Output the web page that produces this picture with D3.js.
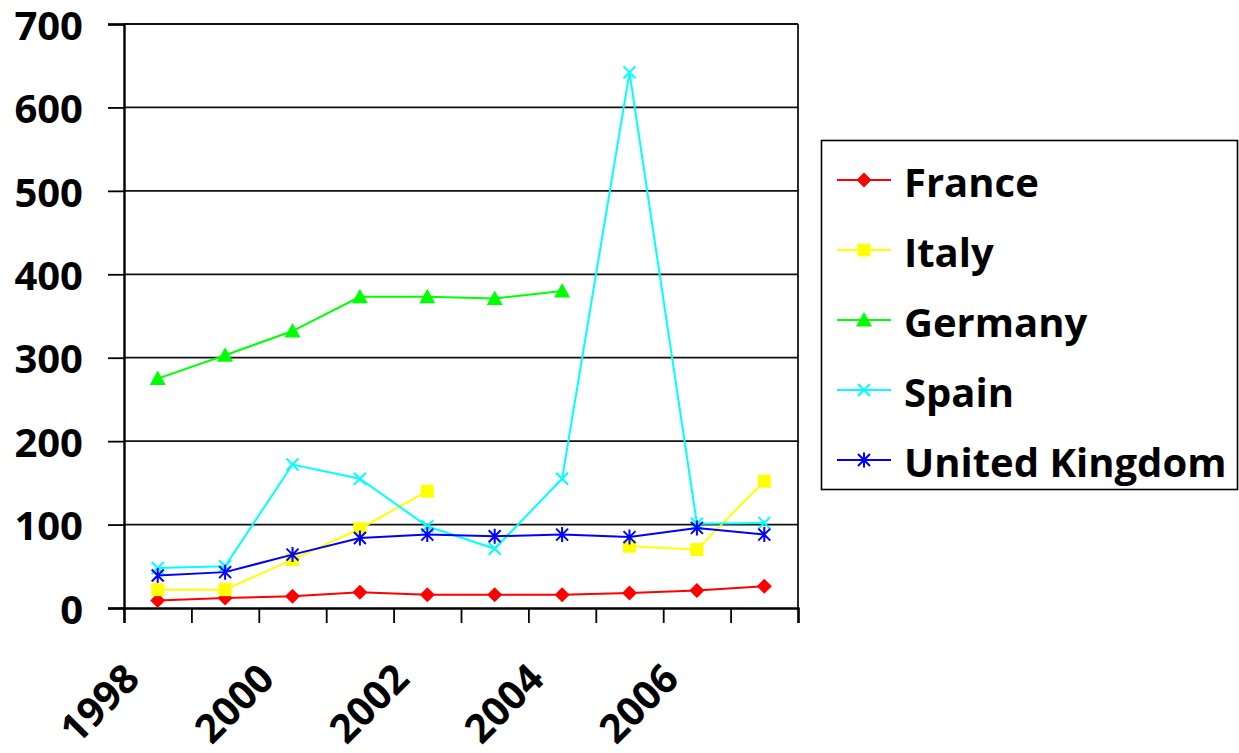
<!DOCTYPE html>
<html>
<head>
<meta charset="utf-8">
<script src="https://cdn.jsdelivr.net/npm/d3@7"></script>
<style>
  html, body { margin: 0; padding: 0; background: #fff; }
  svg { display: block; font-family: "Open Sans", sans-serif; font-weight: bold; }
</style>
</head>
<body>
<svg id="chart" width="1239" height="753"></svg>
<script>
// Yearly values per country (null = no data for that year)
const years = [1998, 1999, 2000, 2001, 2002, 2003, 2004, 2005, 2006, 2007];
const france  = [9, 12, 14, 19, 16, 16, 16, 18, 21, 26];
const italy   = [22, 22, 58, 95, 140, null, null, 74, 70, 152];
const germany = [275, 303, 332, 373, 373, 371, 380, null, null, null];
const spain   = [48, 50, 172, 155, 98, 71, 155, 642, 101, 102];
const uk      = [39, 43, 64, 84, 88, 86, 88, 85, 96, 88];
const yTicks  = [0, 100, 200, 300, 400, 500, 600, 700];
const xLabels = [1998, 2000, 2002, 2004, 2006];

const series = [
  { name: "France",         values: france,  color: "#ff0000", marker: "diamond" },
  { name: "Italy",          values: italy,   color: "#ffff00", marker: "square" },
  { name: "Germany",        values: germany, color: "#00ff00", marker: "triangle" },
  { name: "Spain",          values: spain,   color: "#00ffff", marker: "cross" },
  { name: "United Kingdom", values: uk,      color: "#0000ff", marker: "star" }
];

const svg = d3.select("#chart");
const plot = { left: 124, right: 798, top: 24, bottom: 608 };

const x = d3.scaleBand().domain(years).range([plot.left, plot.right]);
const xEdge = d3.scaleLinear().domain([0, years.length]).range([plot.left, plot.right]);
const y = d3.scaleLinear().domain([0, 700]).range([plot.bottom, plot.top]);
const cx = yr => x(yr) + x.bandwidth() / 2;

// horizontal gridlines
svg.append("g").selectAll("line").data(yTicks.filter(v => v > 0)).join("line")
  .attr("x1", plot.left).attr("x2", plot.right)
  .attr("y1", d => y(d)).attr("y2", d => y(d))
  .attr("stroke", "#111").attr("stroke-width", 1.8);

// right border of the plot area
svg.append("line")
  .attr("x1", plot.right).attr("x2", plot.right)
  .attr("y1", plot.top).attr("y2", plot.bottom)
  .attr("stroke", "#111").attr("stroke-width", 1.8);

// y axis
const yAxis = svg.append("g").attr("transform", `translate(${plot.left},0)`)
  .call(d3.axisLeft(y).tickValues(yTicks).tickSize(16).tickPadding(25).tickFormat(d3.format("d")));
yAxis.select(".domain").attr("stroke", "#000").attr("stroke-width", 2.4);
yAxis.selectAll(".tick line").attr("stroke", "#000").attr("stroke-width", 1.8);
yAxis.selectAll(".tick text").attr("font-size", 40).attr("font-family", "Open Sans")
  .attr("font-weight", "bold").attr("fill", "#000").attr("dy", "0.38em");

// x axis: ticks on category boundaries
const xAxis = svg.append("g").attr("transform", `translate(0,${plot.bottom})`)
  .call(d3.axisBottom(xEdge).tickValues(d3.range(years.length + 1)).tickSize(15).tickFormat(""));
xAxis.select(".domain").attr("stroke", "#000").attr("stroke-width", 2.4);
xAxis.selectAll(".tick line").attr("stroke", "#000").attr("stroke-width", 1.8);

// rotated category labels (every other year)
svg.append("g").selectAll("text").data(xLabels).join("text")
  .attr("transform", d => `translate(${cx(d) - 16},${plot.bottom + 73}) rotate(-45)`)
  .attr("text-anchor", "end")
  .attr("font-size", 40).attr("fill", "#000")
  .text(d => d);

// marker shapes
function drawMarker(g, type, color) {
  if (type === "diamond") {
    g.append("path").attr("d", "M0,-7.5L7.5,0L0,7.5L-7.5,0Z").attr("fill", color);
  } else if (type === "square") {
    g.append("rect").attr("x", -6.5).attr("y", -6.5).attr("width", 13).attr("height", 13).attr("fill", color);
  } else if (type === "triangle") {
    g.append("path").attr("d", "M0,-8L8,6.5L-8,6.5Z").attr("fill", color);
  } else if (type === "cross") {
    g.append("path").attr("d", "M-6,-6L6,6M-6,6L6,-6").attr("stroke", color).attr("stroke-width", 2).attr("fill", "none");
  } else if (type === "star") {
    g.append("path").attr("d", "M-6,-6L6,6M-6,6L6,-6M0,-7.5L0,7.5").attr("stroke", color).attr("stroke-width", 2).attr("fill", "none");
  }
}

const line = d3.line()
  .defined(d => d.v !== null)
  .x(d => cx(d.year))
  .y(d => y(d.v));

series.forEach(s => {
  const pts = years.map((yr, i) => ({ year: yr, v: s.values[i] }));
  svg.append("path").datum(pts)
    .attr("d", line)
    .attr("fill", "none").attr("stroke", s.color).attr("stroke-width", 2);
  pts.filter(p => p.v !== null).forEach(p => {
    const g = svg.append("g").attr("transform", `translate(${cx(p.year)},${y(p.v)})`);
    drawMarker(g, s.marker, s.color);
  });
});

// legend
const legend = svg.append("g");
legend.append("rect")
  .attr("x", 821.5).attr("y", 140.5).attr("width", 416).attr("height", 349)
  .attr("fill", "#fff").attr("stroke", "#000").attr("stroke-width", 1.6);
const rowY = d3.scalePoint().domain(series.map(s => s.name)).range([180, 460]);
series.forEach(s => {
  const ry = rowY(s.name);
  legend.append("line").attr("x1", 837).attr("x2", 891).attr("y1", ry).attr("y2", ry)
    .attr("stroke", s.color).attr("stroke-width", 2);
  drawMarker(legend.append("g").attr("transform", `translate(864,${ry})`), s.marker, s.color);
  legend.append("text").attr("x", 904).attr("y", ry + 16.5)
    .attr("font-size", 40).attr("fill", "#000").text(s.name);
});
</script>
</body>
</html>
